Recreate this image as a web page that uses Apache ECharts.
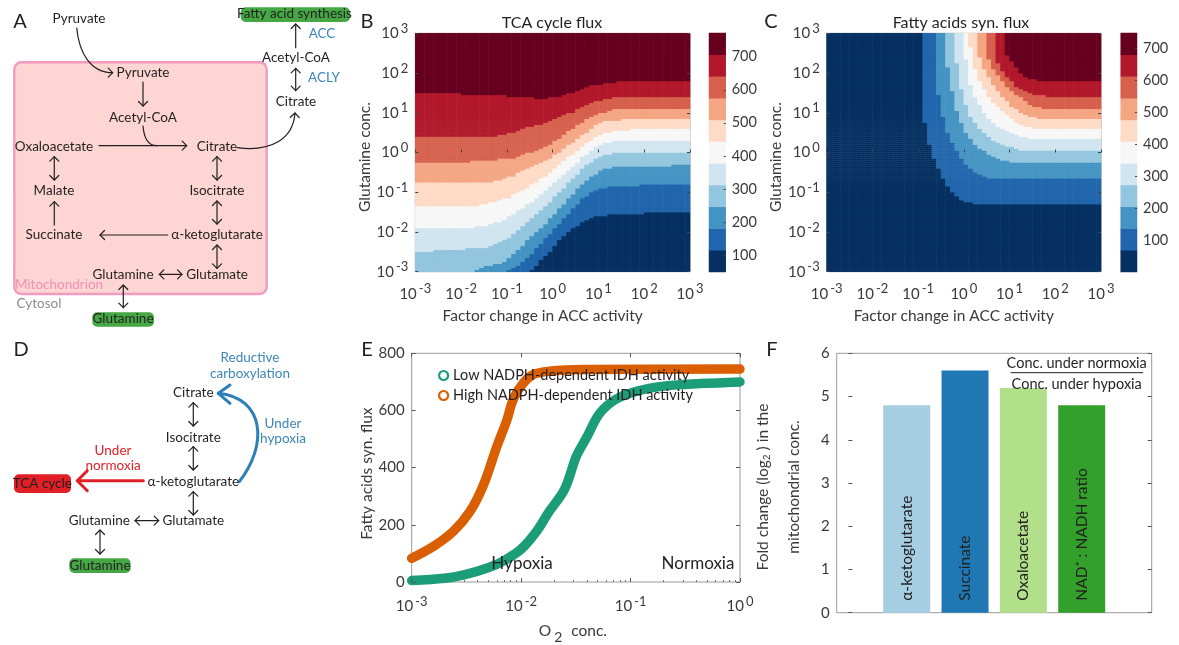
<!DOCTYPE html>
<html>
<head>
<meta charset="utf-8">
<style>html,body{margin:0;padding:0;background:#fff}#c{width:1179px;height:645px}</style>
<script src="https://cdn.jsdelivr.net/npm/echarts@6/dist/echarts.min.js"></script>
</head>
<body>
<div id="c"></div>
<script>
// ---- Panel B: upper edge of each flux band per ACC column, in half-rows of the 60x60 grid (0..120)
const tcaEdge1=[0,0,0,0,0,0,0,0,0,0,0,0,0,0,0,0,0,0,0,0,0,0,0,0,0,1,3,6,8,10,13,16,18,20,22,23,25,26,27,28,28,28,29,29,29,29,29,29,29,29,30,30,30,30,30,30,30,30,30,30];
const tcaEdge2=[0,0,0,0,0,0,0,0,0,0,0,0,0,0,0,0,0,0,0,0,1,2,3,5,7,9,12,14,17,19,22,24,27,29,32,34,37,38,40,41,42,42,43,43,43,43,43,43,43,44,44,44,44,44,44,44,44,44,44,44];
const tcaEdge3=[0,0,0,0,0,0,0,0,0,0,0,0,0,1,2,3,3,4,4,5,7,9,11,13,16,18,20,22,24,27,29,32,34,37,39,42,44,46,48,49,51,52,52,53,53,53,53,53,53,53,53,53,53,53,53,53,54,54,54,54];
const tcaEdge4=[10,10,10,10,11,11,11,11,11,11,11,12,12,12,12,12,13,14,15,16,17,19,21,23,25,27,29,31,33,35,38,40,42,45,47,49,52,54,55,57,58,59,59,60,60,60,60,60,60,60,60,60,60,60,60,60,60,60,60,60];
const tcaEdge5=[22,22,22,22,22,22,22,22,22,22,22,22,22,23,23,23,24,25,25,26,28,29,31,32,34,35,37,39,41,43,45,47,49,51,53,55,58,59,61,63,64,65,65,66,66,66,66,66,66,66,66,66,66,66,66,66,66,66,66,66];
const tcaEdge6=[33,33,33,33,33,33,33,33,33,33,33,33,33,33,34,34,35,35,36,37,37,39,40,41,42,44,45,47,48,50,52,54,56,58,59,61,63,65,66,68,69,70,70,71,71,71,71,72,72,72,72,72,72,72,72,72,72,72,72,72];
const tcaEdge7=[45,45,45,45,45,45,45,45,45,45,45,45,45,45,45,45,45,46,46,47,48,48,50,51,52,53,54,55,56,57,59,60,62,64,65,67,69,70,72,74,75,76,76,76,76,77,77,77,77,77,77,77,77,77,77,77,77,77,77,77];
const tcaEdge8=[55,55,55,55,55,55,55,55,55,55,55,55,56,56,56,56,56,56,57,57,57,57,58,59,60,60,61,62,63,64,66,67,69,71,72,74,75,77,78,79,80,80,81,82,82,82,82,82,82,82,82,82,82,82,82,82,82,82,82,82];
const tcaEdge9=[68,68,68,68,68,68,68,68,68,68,68,68,68,68,68,68,68,68,69,69,70,70,71,72,73,73,74,74,75,76,77,78,79,80,80,82,83,84,85,86,86,87,87,88,88,88,88,88,88,88,88,88,88,88,88,88,88,88,88,88];
const tcaEdge10=[90,90,90,90,90,90,90,90,90,90,89,89,89,89,89,89,89,89,89,89,88,88,88,88,88,88,87,87,87,88,88,88,89,90,90,91,92,93,94,94,94,95,95,95,96,96,96,96,96,96,96,96,96,96,96,96,96,96,96,96];
// ---- Panel C: same encoding
const fasEdge1=[120,120,120,120,120,120,120,120,120,120,120,120,120,120,120,120,120,120,120,120,120,75,64,57,52,47,43,40,38,36,35,35,34,34,34,34,34,34,34,34,34,34,34,34,34,34,34,34,34,34,34,34,34,34,34,34,34,34,34,34];
const fasEdge2=[120,120,120,120,120,120,120,120,120,120,120,120,120,120,120,120,120,120,120,120,120,120,120,120,89,78,70,65,61,57,54,52,50,49,48,47,47,47,47,47,47,47,47,47,47,47,47,47,47,47,47,47,47,47,47,47,47,47,47,47];
const fasEdge3=[120,120,120,120,120,120,120,120,120,120,120,120,120,120,120,120,120,120,120,120,120,120,120,120,120,120,103,91,81,75,70,67,64,62,61,59,58,57,56,56,55,55,55,55,55,55,55,55,55,55,55,55,55,55,55,55,55,55,55,55];
const fasEdge4=[120,120,120,120,120,120,120,120,120,120,120,120,120,120,120,120,120,120,120,120,120,120,120,120,120,120,120,120,105,92,84,78,75,72,70,68,66,65,64,63,63,62,61,61,61,61,61,61,61,61,61,61,61,61,61,61,61,61,61,61];
const fasEdge5=[120,120,120,120,120,120,120,120,120,120,120,120,120,120,120,120,120,120,120,120,120,120,120,120,120,120,120,120,120,120,107,94,88,84,80,77,75,73,72,71,70,69,68,68,67,67,67,67,67,67,67,67,67,67,67,67,67,67,67,67];
const fasEdge6=[120,120,120,120,120,120,120,120,120,120,120,120,120,120,120,120,120,120,120,120,120,120,120,120,120,120,120,120,120,120,120,113,102,96,92,88,85,83,81,79,77,75,74,73,73,72,72,72,72,72,72,72,72,72,72,72,72,72,72,72];
const fasEdge7=[120,120,120,120,120,120,120,120,120,120,120,120,120,120,120,120,120,120,120,120,120,120,120,120,120,120,120,120,120,120,120,120,120,108,102,98,94,91,88,86,83,82,80,79,78,78,77,77,77,77,77,77,77,77,77,77,77,77,77,77];
const fasEdge8=[120,120,120,120,120,120,120,120,120,120,120,120,120,120,120,120,120,120,120,120,120,120,120,120,120,120,120,120,120,120,120,120,120,120,120,107,102,99,96,93,91,89,88,86,84,83,83,82,82,82,82,82,82,82,82,82,82,82,82,82];
const fasEdge9=[120,120,120,120,120,120,120,120,120,120,120,120,120,120,120,120,120,120,120,120,120,120,120,120,120,120,120,120,120,120,120,120,120,120,120,120,120,105,101,98,96,93,92,91,90,89,89,89,88,88,88,88,88,88,88,88,88,88,88,88];
const fasEdge10=[120,120,120,120,120,120,120,120,120,120,120,120,120,120,120,120,120,120,120,120,120,120,120,120,120,120,120,120,120,120,120,120,120,120,120,120,120,120,120,109,106,103,100,98,97,97,96,96,96,96,96,96,96,96,96,96,96,96,96,96];
const bandColors=['#053061','#2166ac','#4393c3','#92c5de','#d1e5f0','#f7f7f7','#fddbc7','#f4a582','#d6604d','#b2182b','#67001f'];
const decadeTicks=[-3,-2,-1,0,1,2,3];
const colorbarTicks=[100,200,300,400,500,600,700];
const colorbarTicksC=[100,200,300,400,500,600,700];
// ---- Panel E
const o2Low=[0.001,0.002,0.003,0.005,0.007,0.01,0.014,0.018,0.025,0.032,0.04,0.052,0.074,0.115,0.21,0.43,1];
const fluxLow=[5,13,25,50,75,115,180,246,325,440,508,589,640,668,686,694,700];
const o2High=[0.001,0.0016,0.0024,0.0034,0.0045,0.006,0.0074,0.0085,0.0105,0.013,0.018,0.037,1];
const fluxHigh=[83,126,177,246,337,474,566,640,697,726,737,743,745];
const seriesNames=['Low NADPH-dependent IDH activity','High NADPH-dependent IDH activity'];
const o2MinorTicks=[0.002,0.003,0.004,0.005,0.006,0.007,0.008,0.009,0.02,0.03,0.04,0.05,0.06,0.07,0.08,0.09,0.2,0.3,0.4,0.5,0.6,0.7,0.8,0.9];
// ---- Panel F
const metabolites=['α-ketoglutarate','Succinate','Oxaloacetate','NAD⁺ : NADH ratio'];
const foldChange=[4.8,5.6,5.2,4.8];
const barColors=['#a6cee3','#1f78b4','#b2df8a','#33a02c'];

const FONT='Lato';
const INK='#231f20', AX='#3a3a3a', FRAME='#9a9a9a';

const tcaEdges=[tcaEdge1,tcaEdge2,tcaEdge3,tcaEdge4,tcaEdge5,tcaEdge6,tcaEdge7,tcaEdge8,tcaEdge9,tcaEdge10];
const fasEdges=[fasEdge1,fasEdge2,fasEdge3,fasEdge4,fasEdge5,fasEdge6,fasEdge7,fasEdge8,fasEdge9,fasEdge10];
const NC=60,NR=120;
const colNames=Array.from({length:NC},(_,i)=>String(i));
const rowNames=Array.from({length:NR},(_,i)=>String(i));
function cells(edges){
  const out=[];
  for(let c=0;c<NC;c++)for(let r=0;r<NR;r++){
    let lv=0;for(const e of edges)if(e[c]<=r)lv++;
    out.push([c,r,lv]);
  }
  return out;
}

const grid=[],xAxis=[],yAxis=[],series=[];
function addGrid(l,t,w,h,border){grid.push({left:l,top:t,width:w,height:h,show:border,borderColor:FRAME,borderWidth:1,containLabel:false});return grid.length-1;}
function addX(o){xAxis.push(o);return xAxis.length-1;}
function addY(o){yAxis.push(o);return yAxis.length-1;}
const sup=(sz)=>({s:{fontSize:sz,fontFamily:FONT,color:AX,padding:[0,0,9,2]}});
const powLabel=v=>'10{s|'+v+'}';
const hiddenCat=(g,data)=>({type:'category',gridIndex:g,data,show:false,boundaryGap:true});
const blank={show:false};

function heatPanel(l,t,w,h,edges,xName,yName,yPad,xPad){
  const g=addGrid(l,t,w,h,true);
  const cx=addX(hiddenCat(g,colNames)),cy=addY(hiddenCat(g,rowNames));
  addX({type:'value',gridIndex:g,min:-3,max:3,interval:1,position:'bottom',z:5,splitLine:blank,axisLine:blank,
    axisTick:{show:true,inside:true,length:3,lineStyle:{color:'#444'}},
    axisLabel:{formatter:powLabel,fontSize:15,fontFamily:FONT,color:AX,margin:11,rich:sup(13)},
    name:xName,nameLocation:'middle',nameGap:36,nameTextStyle:{fontSize:15.5,fontFamily:FONT,color:AX,padding:xPad}});
  addY({type:'value',gridIndex:g,min:-3,max:3,interval:1,position:'left',z:5,splitLine:blank,axisLine:blank,
    axisTick:{show:true,inside:true,length:3,lineStyle:{color:'#444'}},
    axisLabel:{formatter:powLabel,fontSize:15,fontFamily:FONT,color:AX,margin:7,rich:sup(13)},
    name:yName,nameLocation:'middle',nameGap:yPad,nameTextStyle:{fontSize:15.5,fontFamily:FONT,color:AX,padding:[0,9,0,0]}});
  addY({type:'value',gridIndex:g,min:-3,max:3,interval:1,position:'right',z:5,splitLine:blank,axisLine:blank,axisLabel:blank,
    axisTick:{show:true,inside:true,length:3,lineStyle:{color:'#444'}}});
  series.push({type:'heatmap',xAxisIndex:cx,yAxisIndex:cy,data:cells(edges),progressive:0,silent:true,emphasis:{disabled:true}});
}
function colorbar(l,t,w,h,lo,hi,ticks){
  const g=addGrid(l,t,w,h,false);
  const cx=addX(hiddenCat(g,['band'])),cy=addY(hiddenCat(g,bandColors.map((_,i)=>String(i))));
  addY({type:'value',gridIndex:g,min:lo,max:hi,position:'right',z:5,splitLine:blank,axisLine:blank,
    axisTick:{show:true,inside:true,length:2,lineStyle:{color:'#444'},customValues:ticks},
    axisLabel:{customValues:ticks,fontSize:14.5,fontFamily:FONT,color:AX,margin:6}});
  series.push({type:'heatmap',xAxisIndex:cx,yAxisIndex:cy,data:bandColors.map((_,i)=>[0,i,i]),silent:true,emphasis:{disabled:true}});
}
heatPanel(415.3,33.3,274.7,238.4,tcaEdges,'Factor change in ACC activity','Glutamine conc.',34,[0,20,0,0]);
colorbar(709,33,16.7,239,48.6,771.7,colorbarTicks);
heatPanel(826.7,33.3,274.3,238.4,fasEdges,'Factor change in ACC activity','Glutamine conc.',34,[0,20,0,0]);
colorbar(1120.7,33,16.3,239,2.2,749,colorbarTicksC);

// Panel E
{
  const g=addGrid(411.7,353.3,328.3,233.4,true);
  const tk={show:true,inside:true,length:4,lineStyle:{color:'#555'}};
  const x=addX({type:'log',logBase:10,gridIndex:g,min:0.001,max:1,position:'bottom',z:5,splitLine:blank,axisLine:blank,minorTick:blank,minorSplitLine:blank,
    axisTick:tk,
    axisLabel:{formatter:v=>powLabel(Math.round(Math.log10(v))),fontSize:15,fontFamily:FONT,color:AX,margin:13,rich:sup(13),hideOverlap:false},
    name:'O{s|2} conc.',nameLocation:'middle',nameGap:36,nameTextStyle:{fontSize:15.5,fontFamily:FONT,color:AX,padding:[0,6,0,0],rich:{s:{fontSize:14,fontFamily:FONT,color:AX,padding:[12,5,0,3]}}}});
  addX({type:'log',logBase:10,gridIndex:g,min:0.001,max:1,position:'bottom',z:5,splitLine:blank,axisLine:blank,axisLabel:blank,minorTick:blank,
    axisTick:{show:true,inside:true,length:2,lineStyle:{color:'#777'},customValues:o2MinorTicks}});
  addX({type:'log',logBase:10,gridIndex:g,min:0.001,max:1,position:'top',z:5,splitLine:blank,axisLine:blank,axisLabel:blank,minorTick:blank,axisTick:tk});
  const y=addY({type:'value',gridIndex:g,min:0,max:800,interval:200,position:'left',z:5,splitLine:blank,axisLine:blank,axisTick:tk,
    axisLabel:{fontSize:15,fontFamily:FONT,color:AX,margin:7},
    name:'Fatty acids syn. flux',nameLocation:'middle',nameGap:35,nameTextStyle:{fontSize:15.5,fontFamily:FONT,color:AX,padding:[0,12,0,0]}});
  addY({type:'value',gridIndex:g,min:0,max:800,interval:200,position:'right',z:5,splitLine:blank,axisLine:blank,axisLabel:blank,axisTick:tk});
  series.push({type:'line',name:seriesNames[0],xAxisIndex:x,yAxisIndex:y,data:o2Low.map((v,i)=>[v,fluxLow[i]]),smooth:0.35,showSymbol:false,symbol:'none',clip:false,z:3,
    lineStyle:{color:'#1b9e77',width:9.5,cap:'round',join:'round'},itemStyle:{color:'#1b9e77'}});
  series.push({type:'line',name:seriesNames[1],xAxisIndex:x,yAxisIndex:y,data:o2High.map((v,i)=>[v,fluxHigh[i]]),smooth:0.35,showSymbol:false,symbol:'none',clip:false,z:2,
    lineStyle:{color:'#d95f02',width:9.5,cap:'round',join:'round'},itemStyle:{color:'#d95f02'}});
}
// Panel F
{
  const g=addGrid(836.7,353.3,315,259.4,true);
  const tk={show:true,inside:true,length:4,lineStyle:{color:'#555'}};
  const x=addX({type:'value',gridIndex:g,min:-0.2,max:5.2,position:'bottom',splitLine:blank,axisLine:blank,axisTick:blank,axisLabel:blank});
  const y=addY({type:'value',gridIndex:g,min:0,max:6,interval:1,position:'left',z:5,splitLine:blank,axisLine:blank,axisTick:tk,
    axisLabel:{fontSize:15,fontFamily:FONT,color:AX,margin:7},
    name:'Fold change (log{s|2} ) in the\nmitochondrial conc.',nameLocation:'middle',nameGap:27,
    nameTextStyle:{fontSize:15.5,lineHeight:31,fontFamily:FONT,color:AX,padding:[0,8,0,0],rich:{s:{fontSize:10,lineHeight:31,fontFamily:FONT,color:AX,padding:[8,0,0,0]}}}});
  addY({type:'value',gridIndex:g,min:0,max:6,interval:1,position:'right',z:5,splitLine:blank,axisLine:blank,axisLabel:blank,axisTick:tk});
  series.push({type:'bar',xAxisIndex:x,yAxisIndex:y,barWidth:47,silent:true,
    data:foldChange.map((v,i)=>({name:metabolites[i],value:[i+1,v],itemStyle:{color:barColors[i]}})),
    label:{show:true,formatter:'{b}',rotate:90,position:'insideBottom',align:'left',verticalAlign:'middle',distance:12,fontSize:15.5,fontFamily:FONT,color:INK}});
}

// ---- schematic helpers
const els=[];
function T(s,x,y,o){o=o||{};els.push({type:'text',silent:true,style:{text:s,x,y,fill:o.c||INK,fontSize:o.fs||13.5,fontFamily:FONT,align:o.al||'center',verticalAlign:'middle'},z:o.z||10});}
function pill(x0,y0,x1,y1,c){els.push({type:'rect',silent:true,shape:{x:x0,y:y0,width:x1-x0,height:y1-y0,r:5},style:{fill:c},z:8});}
function line(pts,c,w){els.push({type:'polyline',silent:true,shape:{points:pts},style:{stroke:c||INK,lineWidth:w||1.2,fill:null,lineCap:'round',lineJoin:'round'},z:9});}
function head(x,y,dx,dy,s,c,w){ // open arrowhead with its tip at x,y pointing along dx,dy
  const n=Math.hypot(dx,dy);dx/=n;dy/=n;
  line([[x-dx*s-dy*s,y-dy*s+dx*s],[x,y],[x-dx*s+dy*s,y-dy*s-dx*s]],c,w);
}
function arrow(x1,y1,x2,y2,both,c,w,s){
  line([[x1,y1],[x2,y2]],c,w);
  head(x2,y2,x2-x1,y2-y1,s||4.5,c,w);
  if(both)head(x1,y1,x1-x2,y1-y2,s||4.5,c,w);
}
function curve(x1,y1,cx1,cy1,cx2,cy2,x2,y2,c,w){
  els.push({type:'bezierCurve',silent:true,shape:{x1,y1,cpx1:cx1,cpy1:cy1,cpx2:cx2,cpy2:cy2,x2,y2},style:{stroke:c||INK,lineWidth:w||1.2,fill:null,lineCap:'round'},z:9});
}
const BL='#3b87bb',GR='#45a844',PK='#f48fb8';

// Panel letters
[['A',20,22],['B',367,22],['C',771,22],['D',21,350],['E',367,350],['F',772,350]].forEach(p=>T(p[0],p[1],p[2],{fs:20}));

// Panel A
els.push({type:'rect',silent:true,shape:{x:14.3,y:62.3,width:252.4,height:231.7,r:7},style:{fill:'#fdd5d2',stroke:'#f39ac0',lineWidth:2.4},z:1});
pill(240.7,7.3,350,22,GR);pill(92.3,312.3,154,326.7,GR);
T('Pyruvate',79,19);T('Fatty acid synthesis',294.5,14);T('ACC',322,34,{c:BL});T('ACLY',324,78,{c:BL});
T('Acetyl-CoA',296,58);T('Citrate',296,102);T('Pyruvate',143,73);T('Acetyl-CoA',143,118);
T('Oxaloacetate',54,147);T('Citrate',217,147);T('Malate',54,191);T('Isocitrate',217,191);
T('Succinate',54,235);T('α-ketoglutarate',217,235);T('Glutamine',123,275);T('Glutamate',217,275);
T('Mitochondrion',59,285,{c:PK});T('Cytosol',39,304,{c:'#8c8c8c'});T('Glutamine',123,319);
curve(76.7,28,79,52,90,72.7,112.7,72.7);head(112.7,72.7,1,0,4.5);
arrow(143,82,143,106);
arrow(99,145.7,186.7,145.7);
curve(143,126,144,138,148,145.7,156.7,145.7);
curve(237.3,147.7,270,152,293,140,295,113);head(295,113,0.05,-1,4.5);
arrow(295.7,47.7,295.7,24);
arrow(295.7,68.3,295.7,90.7,true);
arrow(54.3,156.7,54.3,180,true);
arrow(54.3,225,54.3,201.7);
arrow(217,156.7,217,180,true);
arrow(217,201,217,224,true);
arrow(167.7,235,100,235);
arrow(217,245,217,268.3,true);
arrow(159.3,274.3,182,274.3,true);
arrow(123.3,285,123.3,307.7,true);

// Panel D
pill(69.3,558.3,130.7,573,GR);pill(14,474.3,71,493,'#e01f26');
T('Citrate',193.3,393);T('Isocitrate',193.3,437.3);T('α-ketoglutarate',193.3,481.7);T('Glutamate',193.3,521);T('Glutamine',99.3,521);
T('Glutamine',100,565.7);T('TCA cycle',42.3,483.7);
T('Under',113,450.7,{c:'#e01f26'});T('normoxia',113,466,{c:'#e01f26'});
T('Reductive',250,357.7,{c:BL});T('carboxylation',250,373.3,{c:BL});
T('Under',283,423.3,{c:BL});T('hypoxia',283,439,{c:BL});
arrow(193.3,402.7,193.3,426,true);arrow(193.3,446.7,193.3,470,true);arrow(193.3,491.7,193.3,515,true);
arrow(135,520.7,158.7,520.7,true);arrow(100,530,100,554,true);
arrow(143.3,480.7,77.3,480.7,false,'#e01f26',3,10);
curve(239.3,481.7,268,445,265,398,218.3,393.3,'#2e7fb8',3);
head(218.3,393.3,1,0.02,-0.001,'#2e7fb8',3);
line([[230,385],[218.3,393.3],[230,403.3]],'#2e7fb8',3);

// Panel E / F annotations
T('Hypoxia',522,564,{fs:17});T('Normoxia',698,564,{fs:17});
T('Conc. under normoxia',1076.7,363,{fs:14.5});T('Conc. under hypoxia',1076.7,384,{fs:14.5});
line([[1011,372.7],[1142.7,372.7]],INK,1);

const chart=echarts.init(document.getElementById('c'),null,{renderer:'canvas'});
chart.setOption({
  animation:false,backgroundColor:'#fff',textStyle:{fontFamily:FONT},
  title:[
    {text:'TCA cycle flux',left:547,top:10,textAlign:'center',textStyle:{fontSize:16,fontWeight:'normal',fontFamily:FONT,color:INK}},
    {text:'Fatty acids syn. flux',left:956,top:10,textAlign:'center',textStyle:{fontSize:16,fontWeight:'normal',fontFamily:FONT,color:INK}}
  ],
  legend:{orient:'vertical',left:433,top:363,itemWidth:9,itemHeight:9,itemGap:5,z:20,selectedMode:false,
    textStyle:{fontSize:14.5,fontFamily:FONT,color:INK},
    data:[
      {name:seriesNames[0],icon:'circle',itemStyle:{color:'#fff',borderColor:'#1b9e77',borderWidth:2.2}},
      {name:seriesNames[1],icon:'circle',itemStyle:{color:'#fff',borderColor:'#d95f02',borderWidth:2.2}}
    ]},
  visualMap:{type:'piecewise',show:false,dimension:2,seriesIndex:[0,1,2,3],
    pieces:bandColors.map((c,i)=>({value:i,color:c}))},
  grid,xAxis,yAxis,series,
  graphic:{elements:els}
});
</script>
</body>
</html>
